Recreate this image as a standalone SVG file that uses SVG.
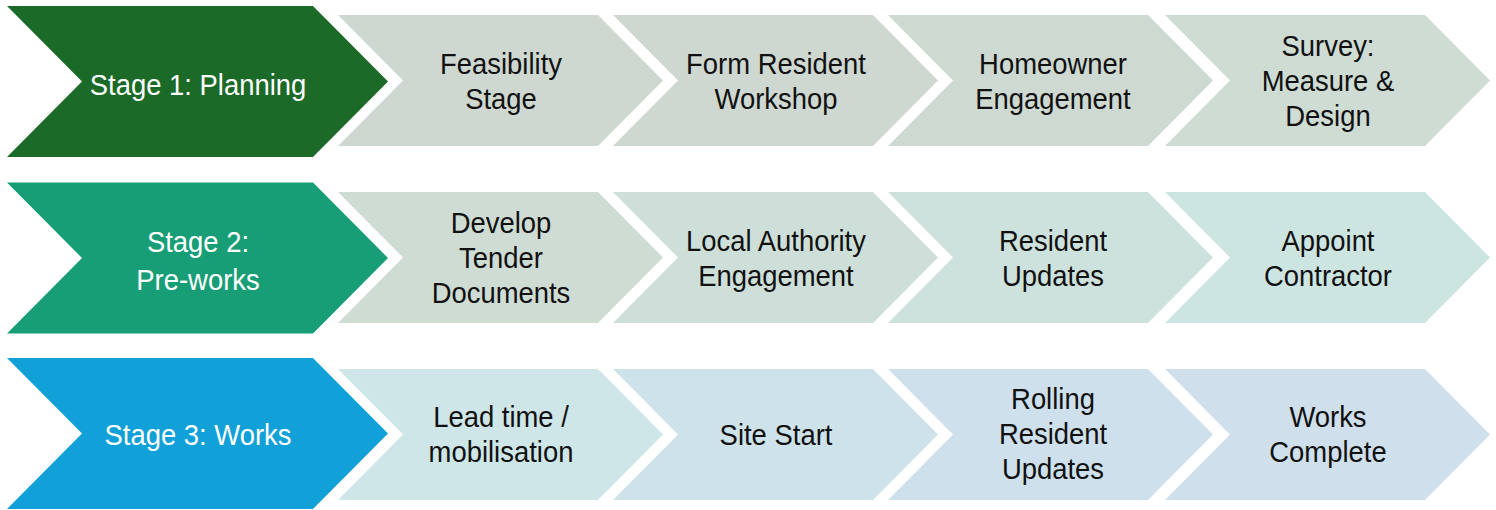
<svg xmlns="http://www.w3.org/2000/svg" width="1496" height="510" viewBox="0 0 1496 510">
<style>
text{font-family:"Liberation Sans",Arial,sans-serif;font-size:29.5px;text-anchor:middle;transform-box:fill-box;transform-origin:center;transform:scaleX(0.93)}
.w{fill:#ffffff}
.k{fill:#111111}
</style>
<defs>
<path id="big" d="M0,0 L306,0 L381,75.5 L306,151 L0,151 L75,75.5 Z"/>
<path id="sm" d="M0,0 L260,0 L325,65.5 L260,131 L0,131 L65,65.5 Z"/>
</defs>
<rect width="1496" height="510" fill="#ffffff"/>
<g id="connectors"></g>
<!-- Row 1 -->
<g id="stage1"><use href="#big" x="7" y="6" fill="#1B6A27"/><text class="w" x="198" y="95">Stage 1: Planning</text></g>
<g id="feasibility"><use href="#sm" x="338" y="15" fill="#CED8D1"/><text class="k" x="501" y="74">Feasibility</text><text class="k" x="501" y="109">Stage</text></g>
<g id="form-resident"><use href="#sm" x="613" y="15" fill="#CED8D1"/><text class="k" x="776" y="74">Form Resident</text><text class="k" x="776" y="109">Workshop</text></g>
<g id="homeowner"><use href="#sm" x="888" y="15" fill="#CED9D2"/><text class="k" x="1053" y="74">Homeowner</text><text class="k" x="1053" y="109">Engagement</text></g>
<g id="survey"><use href="#sm" x="1165" y="15" fill="#CEDCD4"/><text class="k" x="1328" y="56">Survey:</text><text class="k" x="1328" y="91">Measure &amp;</text><text class="k" x="1328" y="126">Design</text></g>
<!-- Row 2 -->
<g id="stage2"><use href="#big" x="7" y="182.5" fill="#189E76"/><text class="w" x="198" y="252">Stage 2:</text><text class="w" x="198" y="290">Pre-works</text></g>
<g id="develop-tender"><use href="#sm" x="338" y="192" fill="#CFDCD4"/><text class="k" x="501" y="233">Develop</text><text class="k" x="501" y="268">Tender</text><text class="k" x="501" y="303">Documents</text></g>
<g id="local-authority"><use href="#sm" x="613" y="192" fill="#CDDFD8"/><text class="k" x="776" y="251">Local Authority</text><text class="k" x="776" y="286">Engagement</text></g>
<g id="resident-updates"><use href="#sm" x="888" y="192" fill="#CDE2DC"/><text class="k" x="1053" y="251">Resident</text><text class="k" x="1053" y="286">Updates</text></g>
<g id="appoint-contractor"><use href="#sm" x="1165" y="192" fill="#CDE5E1"/><text class="k" x="1328" y="251">Appoint</text><text class="k" x="1328" y="286">Contractor</text></g>
<!-- Row 3 -->
<g id="stage3"><use href="#big" x="7" y="358" fill="#11A0D7"/><text class="w" x="198" y="445">Stage 3: Works</text></g>
<g id="lead-time"><use href="#sm" x="338" y="369" fill="#CEE6E7"/><text class="k" x="501" y="427">Lead time /</text><text class="k" x="501" y="462">mobilisation</text></g>
<g id="site-start"><use href="#sm" x="613" y="369" fill="#CEE3E9"/><text class="k" x="776" y="445">Site Start</text></g>
<g id="rolling-updates"><use href="#sm" x="888" y="369" fill="#CEE0EB"/><text class="k" x="1053" y="409">Rolling</text><text class="k" x="1053" y="444">Resident</text><text class="k" x="1053" y="479">Updates</text></g>
<g id="works-complete"><use href="#sm" x="1165" y="369" fill="#CFDFEC"/><text class="k" x="1328" y="427">Works</text><text class="k" x="1328" y="462">Complete</text></g>
</svg>
